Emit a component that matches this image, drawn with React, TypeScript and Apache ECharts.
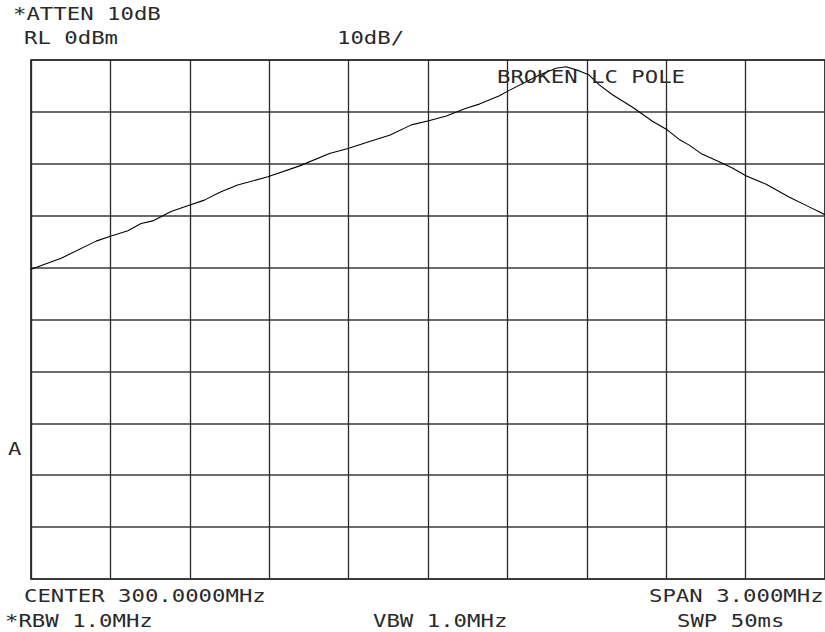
import React, { useEffect, useRef } from "react";
import * as echarts from "echarts";

// Frequency offset from center (kHz), span 3 MHz => -1500..1500
const freqOffsetKHz = [
  -1500, -1386, -1254, -1203, -1134, -1084, -1040, -971, -908, -845, -782, -719,
  -605, -485, -372, -299, -221, -145, -63, 3, 69, 144, 194, 270, 305, 371, 421,
  484, 522, 572, 609, 647, 697, 773, 848, 905, 949, 987, 1031, 1100, 1150, 1201,
  1276, 1364, 1440, 1500,
];
// Amplitude (dBm)
const amplitudeDbm = [
  -40.3, -38.2, -34.9, -34.0, -32.9, -31.5, -31.0, -29.2, -28.1, -27.0, -25.4, -24.1,
  -22.5, -20.4, -18.0, -17.0, -15.7, -14.5, -12.5, -11.7, -10.8, -9.3, -8.5, -6.9,
  -5.9, -4.2, -2.9, -1.6, -1.3, -2.1, -2.9, -4.8, -6.7, -9.1, -11.8, -13.5, -15.3,
  -16.4, -18.0, -19.6, -20.8, -22.3, -23.9, -26.4, -28.3, -29.8,
];

const annotations = [
  { text: "*ATTEN 10dB", x: 13, y: 14 },
  { text: "RL 0dBm", x: 24, y: 38 },
  { text: "10dB/", x: 337, y: 38 },
  { text: "BROKEN LC POLE", x: 497, y: 77 },
  { text: "A", x: 8, y: 449 },
  { text: "CENTER 300.0000MHz", x: 24, y: 596 },
  { text: "SPAN 3.000MHz", x: 649, y: 596 },
  { text: "*RBW 1.0MHz", x: 5, y: 621 },
  { text: "VBW 1.0MHz", x: 373, y: 621 },
  { text: "SWP 50ms", x: 677, y: 621 },
];

export default function App() {
  const ref = useRef<HTMLDivElement>(null);
  useEffect(() => {
    if (!ref.current) return;
    const chart = echarts.init(ref.current, null, { renderer: "svg" });
    const data = freqOffsetKHz.map((f, i) => [f, amplitudeDbm[i]]);
    chart.setOption({
      animation: false,
      backgroundColor: "#ffffff",
      grid: {
        left: 31,
        top: 60,
        right: -1,
        bottom: 53,
        show: true,
        borderColor: "#000",
        borderWidth: 1.5,
      },
      xAxis: {
        type: "value",
        min: -1500,
        max: 1500,
        interval: 300,
        axisLine: { show: false },
        axisTick: { show: false },
        axisLabel: { show: false },
        splitLine: { show: true, lineStyle: { color: "#2a2a2a", width: 1.3 } },
      },
      yAxis: {
        type: "value",
        min: -100,
        max: 0,
        interval: 10,
        axisLine: { show: false },
        axisTick: { show: false },
        axisLabel: { show: false },
        splitLine: { show: true, lineStyle: { color: "#3a3a3a", width: 1.5 } },
      },
      series: [
        {
          type: "line",
          data,
          symbol: "none",
          smooth: false,
          lineStyle: { color: "#000", width: 1.1 },
          clip: false,
        },
      ],
      graphic: annotations.map((a) => ({
        type: "text",
        x: a.x,
        y: a.y,
        scaleX: 1.24,
        z: 100,
        style: {
          text: a.text,
          fill: "#2a2a2a",
          font: "18px 'DejaVu Sans Mono', monospace",
          textAlign: "left",
          textVerticalAlign: "middle",
        },
      })),
    });
    return () => chart.dispose();
  }, []);
  return (
    <div
      ref={ref}
      style={{ position: "absolute", left: 0, top: 0, width: 825, height: 632 }}
    />
  );
}
